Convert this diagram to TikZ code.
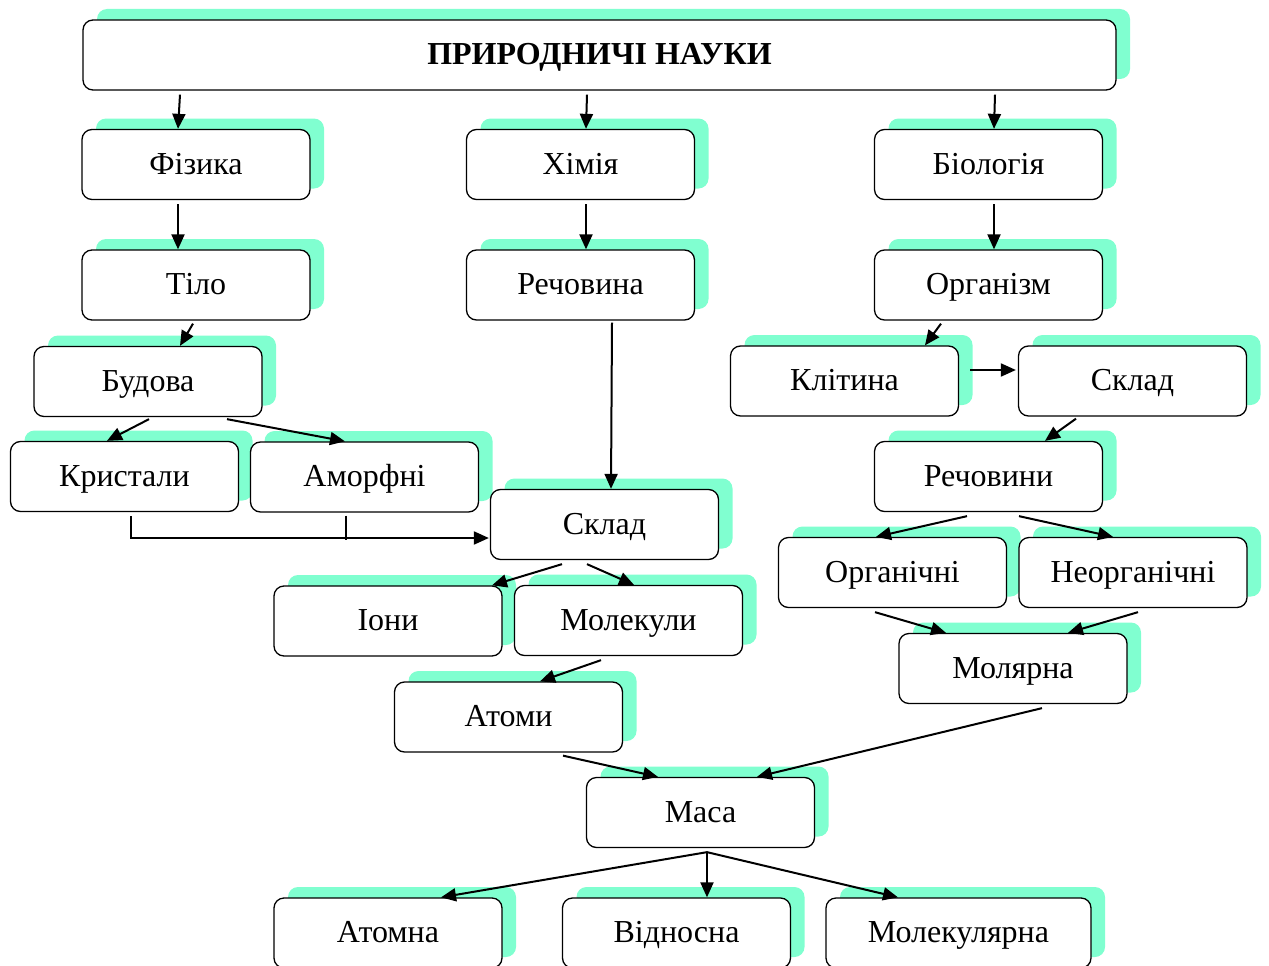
\documentclass[tikz,border=0pt]{standalone}
\usepackage{fontspec}
\setmainfont{Liberation Serif}
\usetikzlibrary{arrows.meta, shadows, calc}
\definecolor{aqshadow}{HTML}{80FFD0}

\begin{document}
\begin{tikzpicture}[
  x=1pt, y=-1pt,
  box/.style={rectangle, rounded corners=10pt, draw=black, line width=1.3pt,
    fill=white, minimum width=228pt, minimum height=70pt, inner sep=0pt,
    text height=24pt, text depth=5pt,
    font=\fontsize{32}{38}\selectfont,
    general shadow={fill=aqshadow, shadow xshift=14pt, shadow yshift=11pt}},
  >={Triangle[length=15pt, width=13pt]},
  arr/.style={draw=black, line width=2pt, ->},
  link/.style={draw=black, line width=2pt},
]
\useasboundingbox (0,0) rectangle (1269,966);

% Top level
\node[box, minimum width=1033pt, font=\fontsize{32}{38}\selectfont\bfseries]
  (nauky) at (599.5,55) {ПРИРОДНИЧІ НАУКИ};
\node[box] (fizyka) at (196,164.5) {Фізика};
\node[box] (khimiia) at (580.5,164.5) {Хімія};
\node[box] (biolohiia) at (988.5,164.5) {Біологія};

\node[box] (tilo) at (196,285) {Тіло};
\node[box] (rechovyna) at (580.5,285) {Речовина};
\node[box] (orhanizm) at (988.5,285) {Організм};

% Physics branch
\node[box] (budova) at (148,381.5) {Будова};
\node[box] (krystaly) at (124.5,476.5) {Кристали};
\node[box] (amorfni) at (364.5,477) {Аморфні};

% Biology branch
\node[box] (klityna) at (844.5,381) {Клітина};
\node[box] (skladR) at (1132.5,381) {Склад};
\node[box] (rechovyny) at (988.5,476.5) {Речовини};
\node[box] (orhanichni) at (892.5,572.5) {Органічні};
\node[box] (neorhanichni) at (1133,572.5) {Неорганічні};
\node[box] (moliarna) at (1013,668.5) {Молярна};

% Chemistry branch
\node[box] (skladM) at (604.5,524.5) {Склад};
\node[box] (iony) at (388,621) {Іони};
\node[box] (molekuly) at (628.5,620.5) {Молекули};
\node[box] (atomy) at (508.5,717) {Атоми};

% Mass
\node[box] (masa) at (700.5,812.5) {Маса};
\node[box] (atomna) at (388,933) {Атомна};
\node[box] (vidnosna) at (676.5,933) {Відносна};
\node[box, minimum width=265pt] (molekuliarna) at (958.5,933) {Молекулярна};

% Arrows
\draw[arr] ($(nauky.south)+(-419.5,4)$) -- ($(fizyka.north)+(-18,0)$);
\draw[arr] ($(nauky.south)+(-12.5,4)$) -- ($(khimiia.north)+(5.5,0)$);
\draw[arr] ($(nauky.south)+(395.5,4)$) -- ($(biolohiia.north)+(5.5,0)$);

\draw[arr] ($(fizyka.south)+(-18,4)$) -- ($(tilo.north)+(-18,0)$);
\draw[arr] ($(khimiia.south)+(5.5,4)$) -- ($(rechovyna.north)+(5.5,0)$);
\draw[arr] ($(biolohiia.south)+(5.5,4)$) -- ($(orhanizm.north)+(5.5,0)$);

\draw[arr] ($(tilo.south)+(-3,3)$) -- ($(budova.north)+(32,0)$);
\draw[arr] ($(budova.south)+(1,2)$) -- ($(krystaly.north)+(-17.5,0)$);
\draw[arr] ($(budova.south)+(79,2)$) -- ($(amorfni.north)+(-19.5,0)$);
\draw[arr] ($(krystaly.south)+(6.5,4)$) |- ($(skladM.west)+(-1,13.5)$);
\draw[link] ($(amorfni.south)+(-18.5,3)$) -- ++(0,24);

\draw[arr] ($(orhanizm.south)+(-47.5,3)$) -- ($(klityna.north)+(80.5,0)$);
\draw[arr] ($(klityna.east)+(11,-11)$) -- ($(skladR.west)+(-2,-11)$);
\draw[arr] ($(skladR.south)+(-56.5,2)$) -- ($(rechovyny.north)+(56.5,0)$);
\draw[arr] ($(rechovyny.south)+(-21.5,4)$) -- ($(orhanichni.north)+(-16.5,0)$);
\draw[arr] ($(rechovyny.south)+(30.5,4)$) -- ($(neorhanichni.north)+(-20,0)$);
\draw[arr] ($(orhanichni.south)+(-17.5,4)$) -- ($(moliarna.north)+(-67,0)$);
\draw[arr] ($(neorhanichni.south)+(5,4)$) -- ($(moliarna.north)+(55,0)$);

\draw[arr] ($(rechovyna.south)+(31.5,2)$) -- ($(skladM.north)+(6.5,0)$);
\draw[arr] ($(skladM.south)+(-42.5,4)$) -- ($(iony.north)+(104,0)$);
\draw[arr] ($(skladM.south)+(-17.5,4)$) -- ($(molekuly.north)+(5.5,0)$);
\draw[arr] ($(molekuly.south)+(-27.5,4)$) -- ($(atomy.north)+(31.5,0)$);

\draw[arr] ($(atomy.south)+(54.5,3)$) -- ($(masa.north)+(-42.5,0)$);
\draw[arr] ($(moliarna.south)+(29,4)$) -- ($(masa.north)+(56.5,0)$);
\draw[arr] ($(masa.south)+(6.5,4)$) -- ($(atomna.north)+(53,0)$);
\draw[arr] ($(masa.south)+(6.5,4)$) -- ($(vidnosna.north)+(30.5,0)$);
\draw[arr] ($(masa.south)+(6.5,4)$) -- ($(molekuliarna.north)+(-60.5,0)$);
\end{tikzpicture}
\end{document}
